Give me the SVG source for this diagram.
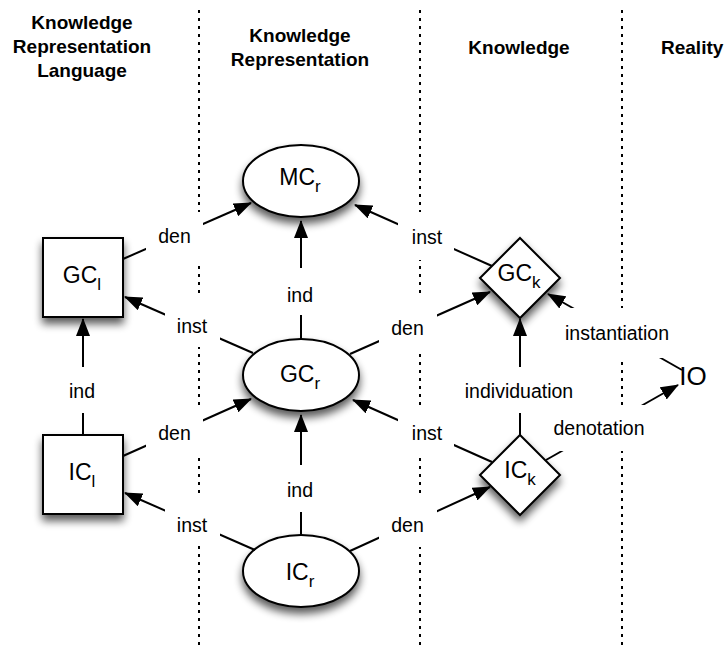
<svg xmlns="http://www.w3.org/2000/svg" width="725" height="646" viewBox="0 0 725 646">
<defs>
<filter id="sh" x="-30%" y="-30%" width="160%" height="170%">
<feGaussianBlur in="SourceAlpha" stdDeviation="4"/>
<feOffset dx="0" dy="6" result="b"/>
<feComponentTransfer><feFuncA type="linear" slope="0.65"/></feComponentTransfer>
<feMerge><feMergeNode/><feMergeNode in="SourceGraphic"/></feMerge>
</filter>
<marker id="ah" markerUnits="userSpaceOnUse" markerWidth="18" markerHeight="14" refX="17" refY="7" orient="auto">
<path d="M0,0 L18,7 L0,14 z" fill="#000"/>
</marker>
</defs>
<style>
.hdr{font-family:"Liberation Sans",Arial,sans-serif;font-weight:bold;font-size:19px;fill:#000;text-anchor:middle}
.col{stroke:#000;stroke-width:2;stroke-dasharray:3 5;fill:none}
.shape{fill:#fff;stroke:#000;stroke-width:2}
.nl{font-family:"Liberation Sans",Arial,sans-serif;font-size:23px;fill:#000;text-anchor:middle}
.sub{font-size:17px}
.ln{stroke:#000;stroke-width:2;fill:none}
.arr{marker-end:url(#ah)}
.lb{fill:#fff;stroke:none}
.lt{font-family:"Liberation Sans",Arial,sans-serif;font-size:19.5px;fill:#000;text-anchor:middle}
</style>
<rect width="725" height="646" fill="#fff"/>
<g id="headers">
<text class="hdr" x="82" y="29">Knowledge</text>
<text class="hdr" x="82" y="53">Representation</text>
<text class="hdr" x="82" y="77">Language</text>
<text class="hdr" x="300" y="42">Knowledge</text>
<text class="hdr" x="300" y="66">Representation</text>
<text class="hdr" x="519" y="54">Knowledge</text>
<text class="hdr" x="661" y="54" style="text-anchor:start">Reality</text>
</g>
<g id="columns">
<line class="col" x1="199" y1="10" x2="199" y2="646"/>
<line class="col" x1="420" y1="10" x2="420" y2="646"/>
<line class="col" x1="622" y1="10" x2="622" y2="646"/>
</g>
<g id="GC_l"><rect class="shape" filter="url(#sh)" x="43" y="238" width="80" height="79"/><text class="nl" x="82" y="283">GC<tspan class="sub" dy="7">l</tspan></text></g>
<g id="IC_l"><rect class="shape" filter="url(#sh)" x="43" y="435" width="80" height="79"/><text class="nl" x="82" y="480">IC<tspan class="sub" dy="7">l</tspan></text></g>
<g id="MC_r"><ellipse class="shape" filter="url(#sh)" cx="301" cy="181" rx="58" ry="36"/><text class="nl" x="300" y="185">MC<tspan class="sub" dy="7">r</tspan></text></g>
<g id="GC_r"><ellipse class="shape" filter="url(#sh)" cx="301" cy="375" rx="58" ry="36"/><text class="nl" x="300" y="382">GC<tspan class="sub" dy="7">r</tspan></text></g>
<g id="IC_r"><ellipse class="shape" filter="url(#sh)" cx="301" cy="571" rx="58" ry="36"/><text class="nl" x="300" y="580">IC<tspan class="sub" dy="7">r</tspan></text></g>
<g id="GC_k"><polygon class="shape" filter="url(#sh)" points="520,238 560,278 520,318 480,278"/><text class="nl" x="519" y="281">GC<tspan class="sub" dy="7">k</tspan></text></g>
<g id="IC_k"><polygon class="shape" filter="url(#sh)" points="520,435 560,475 520,515 480,475"/><text class="nl" x="520" y="478">IC<tspan class="sub" dy="7">k</tspan></text></g>
<g id="IO"><text x="693" y="385" style="font-family:'Liberation Sans',Arial,sans-serif;font-size:26px;text-anchor:middle">IO</text></g>
<g id="connectors">
<g id="lines">
<line class="ln arr" x1="123" y1="259" x2="251" y2="203"/>
<line class="ln arr" x1="253" y1="353" x2="125" y2="297"/>
<line class="ln arr" x1="83" y1="435" x2="83" y2="319"/>
<line class="ln arr" x1="123" y1="456" x2="251" y2="399"/>
<line class="ln arr" x1="255" y1="550" x2="125" y2="493"/>
<line class="ln arr" x1="301" y1="339" x2="301" y2="221"/>
<line class="ln arr" x1="301" y1="535" x2="301" y2="415"/>
<line class="ln arr" x1="492" y1="266" x2="355" y2="205"/>
<line class="ln arr" x1="350" y1="354" x2="490" y2="292"/>
<line class="ln arr" x1="492" y1="462" x2="353" y2="400"/>
<line class="ln arr" x1="350" y1="551" x2="490" y2="487"/>
<line class="ln arr" x1="520" y1="435" x2="520" y2="319"/>
<line class="ln arr" x1="682" y1="370" x2="548" y2="294"/>
<line class="ln arr" x1="546" y1="460" x2="678" y2="385"/>
</g>
<g id="labels">
<rect class="lb" x="146" y="212" width="57" height="50"/><text class="lt" x="174.5" y="243">den</text>
<rect class="lb" x="165" y="298" width="55" height="49"/><text class="lt" x="192" y="333">inst</text>
<rect class="lb" x="56" y="367" width="54" height="46"/><text class="lt" x="82" y="398">ind</text>
<rect class="lb" x="146" y="407" width="57" height="51"/><text class="lt" x="174.5" y="440">den</text>
<rect class="lb" x="165" y="495" width="55" height="50"/><text class="lt" x="192" y="532">inst</text>
<rect class="lb" x="274" y="268" width="54" height="47"/><text class="lt" x="300" y="302">ind</text>
<rect class="lb" x="274" y="465" width="54" height="47"/><text class="lt" x="300" y="497">ind</text>
<rect class="lb" x="398" y="212" width="56" height="48"/><text class="lt" x="427" y="244">inst</text>
<rect class="lb" x="379" y="298" width="58" height="52"/><text class="lt" x="407.5" y="335">den</text>
<rect class="lb" x="398" y="405" width="56" height="52"/><text class="lt" x="427" y="440">inst</text>
<rect class="lb" x="379" y="495" width="58" height="52"/><text class="lt" x="407.5" y="532">den</text>
<rect class="lb" x="460" y="367" width="118" height="46"/><text class="lt" x="519" y="398">individuation</text>
<rect class="lb" x="553" y="308" width="128" height="50"/><text class="lt" x="617" y="340">instantiation</text>
<rect class="lb" x="545" y="405" width="108" height="46"/><text class="lt" x="599" y="435">denotation</text>
</g>
</g>
</svg>
